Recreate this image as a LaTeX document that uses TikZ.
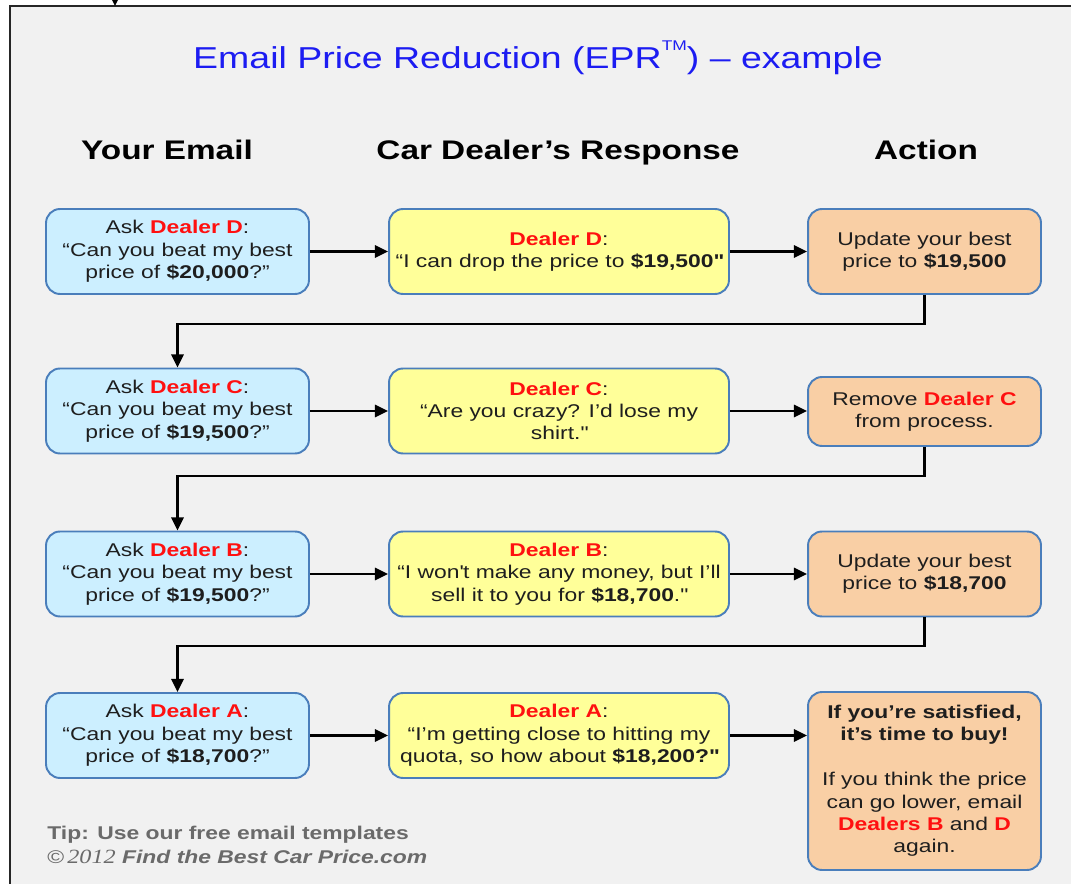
\documentclass[tikz,border=0pt]{standalone}
\usepackage{fontspec}
\setmainfont{Liberation Sans}[FakeStretch=1.24]
\newfontfamily\serifit{Liberation Serif}[FakeStretch=1.2]
\usetikzlibrary{arrows.meta}
\definecolor{bgray}{HTML}{F1F1F1}
\definecolor{bordblue}{HTML}{4A7EBB}
\definecolor{askfill}{HTML}{CCEFFF}
\definecolor{dlfill}{HTML}{FFFF99}
\definecolor{actfill}{HTML}{F9CFA5}
\definecolor{dred}{HTML}{FF1010}
\definecolor{ttlblue}{HTML}{1C1CF2}
\definecolor{txt}{HTML}{1E1E1E}
\definecolor{tipgray}{HTML}{6A6A6A}
\newcommand{\dl}[1]{\textbf{\color{dred}#1}}
\newcommand{\sq}{\textquotedbl}
\tikzset{
  box/.style={draw=bordblue, line width=1.1pt, rounded corners=0.28cm, align=center,
    text=txt, inner sep=1pt, font=\fontsize{10.5}{12.75}\selectfont},
  askbox/.style={box, fill=askfill, minimum width=5.26cm, minimum height=1.7cm},
  dlbox/.style={box, fill=dlfill, minimum width=6.8cm, minimum height=1.7cm},
  actbox/.style={box, fill=actfill, minimum width=4.66cm, minimum height=1.7cm},
  hdr/.style={font=\fontsize{15.3}{18}\selectfont\bfseries, text=black, anchor=base, inner sep=0pt},
  arr/.style={draw=black, line width=1.2pt, -{Triangle[length=7.5pt,width=7pt]}},
  frameline/.style={draw=black!85, line width=0.9pt}
}
\begin{document}
\begin{tikzpicture}[x=0.02cm,y=-0.02cm]
\useasboundingbox (0,0) rectangle (1071,884);
\fill[bgray] (10,6) rectangle (1071,884);
\draw[frameline] (10,884) -- (10,6) -- (1071,6);
\coordinate (topin) at (115,-2);
\coordinate (topend) at (115,6);
\draw[arr] (topin) -- (topend);

\node[font=\fontsize{17.2}{20}\selectfont, text=ttlblue, anchor=base, inner sep=0pt] (title) at (538,69)
  {Email Price Reduction (EPR\raisebox{0.62em}{\fontsize{8}{9}\selectfont TM}) – example};

\node[hdr] (h1) at (167,160) {Your Email};
\node[hdr] (h2) at (558,160) {Car Dealer’s Response};
\node[hdr] (h3) at (926,160) {Action};

% row 1
\node[askbox] (ask1) at (177.5,251.5) {Ask \dl{Dealer D}:\\“Can you beat my best\\price of \textbf{\$20,000}?”};
\node[dlbox] (dl1) at (559,251.5) {\dl{Dealer D}:\\“I can drop the price to \textbf{\$19,500\sq}};
\node[actbox] (act1) at (924.5,251.5) {Update your best\\price to \textbf{\$19,500}};
% row 2
\node[askbox] (ask2) at (177.5,411) {Ask \dl{Dealer C}:\\“Can you beat my best\\price of \textbf{\$19,500}?”};
\node[dlbox] (dl2) at (559,411) {\dl{Dealer C}:\\“Are you crazy? I’d lose my\\shirt.\sq};
\node[actbox, minimum height=1.38cm] (act2) at (924.5,411.5) {Remove \dl{Dealer C}\\from process.};
% row 3
\node[askbox] (ask3) at (177.5,574) {Ask \dl{Dealer B}:\\“Can you beat my best\\price of \textbf{\$19,500}?”};
\node[dlbox] (dl3) at (559,574) {\dl{Dealer B}:\\“I won\textquotesingle t make any money, but I’ll\\sell it to you for \textbf{\$18,700}.\sq};
\node[actbox] (act3) at (924.5,574) {Update your best\\price to \textbf{\$18,700}};
% row 4
\node[askbox] (ask4) at (177.5,735.5) {Ask \dl{Dealer A}:\\“Can you beat my best\\price of \textbf{\$18,700}?”};
\node[dlbox] (dl4) at (559,735.5) {\dl{Dealer A}:\\“I’m getting close to hitting my\\quota, so how about \textbf{\$18,200?\sq}};
\node[actbox, minimum height=3.56cm] (act4) at (924.5,781) {\textbf{If you’re satisfied,}\\\textbf{it’s time to buy!}\\[12.75pt]If you think the price\\can go lower, email\\\dl{Dealers B} and \dl{D}\\again.};

% horizontal arrows
\foreach \r in {1,2,3,4}{
  \draw[arr] (ask\r.east) -- (dl\r.west);
  \draw[arr] (dl\r.east) -- (act\r.west |- dl\r.east);
}
% elbow connectors
\coordinate (e1) at (0,324);
\coordinate (e2) at (0,476);
\coordinate (e3) at (0,646);
\draw[arr] (act1.south) -- (act1.south |- e1) -| (ask2.north);
\draw[arr] (act2.south) -- (act2.south |- e2) -| (ask3.north);
\draw[arr] (act3.south) -- (act3.south |- e3) -| (ask4.north);

% footer
\node[anchor=west, text=tipgray, font=\fontsize{10.5}{12.75}\selectfont\bfseries, inner sep=0pt] (tip) at (47,835) {Tip: Use our free email templates};
\node[anchor=west, text=tipgray, font=\fontsize{10.5}{12.75}\selectfont, inner sep=0pt] (copy) at (47,857) {©\,{\serifit\itshape\fontsize{11.5}{12}\selectfont 2012} \textbf{\textit{Find the Best Car Price.com}}};
\end{tikzpicture}
\end{document}
